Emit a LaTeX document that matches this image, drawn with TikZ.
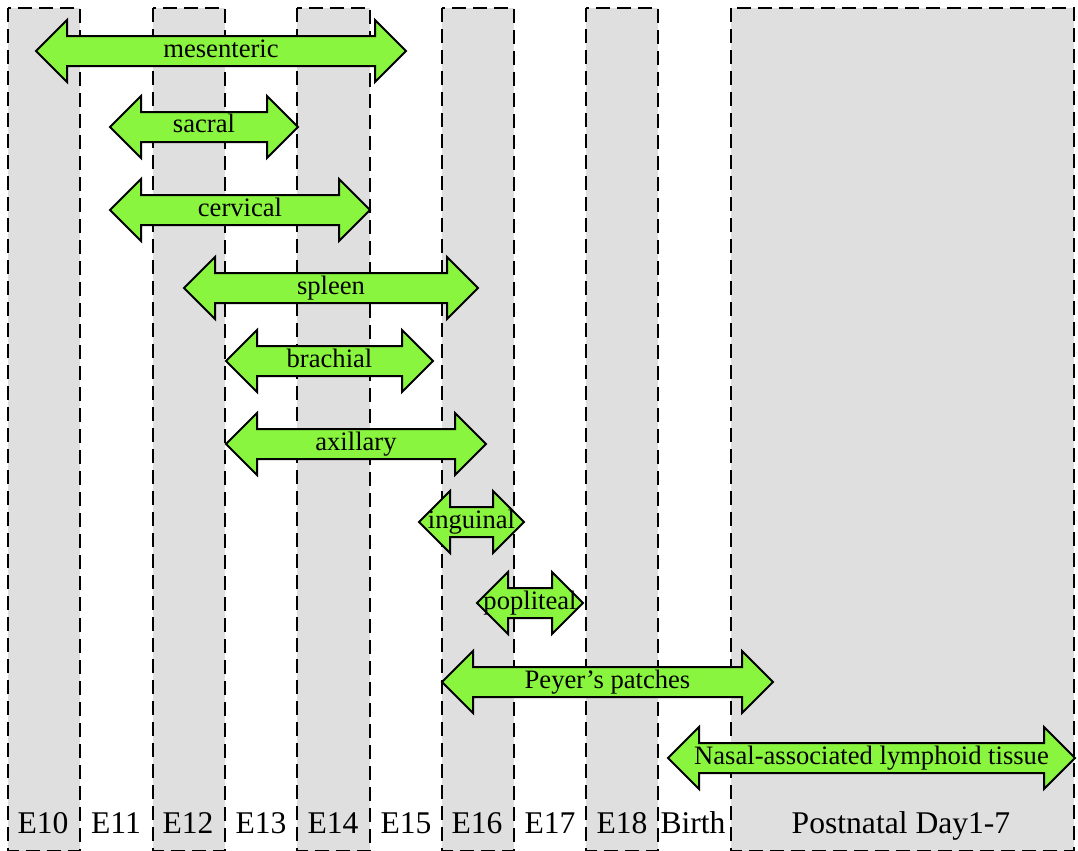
\documentclass[tikz,border=0pt]{standalone}
\usepackage{fontspec}
\setmainfont{Liberation Serif}
\definecolor{stagegray}{RGB}{223,223,223}
\definecolor{organgreen}{RGB}{137,245,62}

\tikzset{
  stage/.style={draw, fill=stagegray, line width=1.1pt, dash pattern=on 7pt off 3.5pt},
  organarrow/.style={draw, fill=organgreen, line width=1pt, line join=miter},
  organlabel/.style={anchor=base, inner sep=0pt, font=\fontsize{13.3}{15}\selectfont},
  daylabel/.style={anchor=base, inner sep=0pt, font=\fontsize{15.8}{18}\selectfont}
}

% #1 name, #2 left tip, #3 right tip, #4 centre line, #5 text
\newcommand{\organ}[5]{%
  \draw[organarrow] (#2,#4) -- ++(31,-31) -- ++(0,16) -- (#3-31,#4-15)
    -- ++(0,-16) -- (#3,#4) -- ++(-31,31) -- ++(0,-16) -- (#2+31,#4+15)
    -- ++(0,16) -- cycle;
  \node[organlabel] (#1) at ({(#2+#3)/2},#4+6) {#5};
}

\begin{document}
\begin{tikzpicture}[x=0.5pt, y=-0.5pt]
            \useasboundingbox (0,0) rectangle (1078,851);

            % shaded stages
            \foreach \a/\b in {8/80, 153/225, 297/370, 442/514, 586/658, 731/1074}
                \draw[stage] (\a,8) rectangle (\b,851);

            % organs
            \organ{mes}{36}{406}{51}{mesenteric}
            \organ{sac}{110}{298}{127}{sacral}
            \organ{cer}{110}{370}{210}{cervical}
            \organ{spl}{184}{478}{288}{spleen}
            \organ{bra}{226}{433}{361}{brachial}
            \organ{axi}{226}{486}{444}{axillary}
            \organ{ing}{419}{524}{522}{inguinal}
            \organ{pop}{477}{583}{603}{popliteal}
            \organ{pey}{442}{773}{682}{Peyer’s patches}
            \organ{nal}{668}{1075}{758}{Nasal-associated lymphoid tissue}

            % stage labels
            \node[daylabel] (e10) at (43,833) {E10};
            \node[daylabel] (e11) at (116,833) {E11};
            \node[daylabel] (e12) at (188,833) {E12};
            \node[daylabel] (e13) at (261,833) {E13};
            \node[daylabel] (e14) at (333,833) {E14};
            \node[daylabel] (e15) at (406,833) {E15};
            \node[daylabel] (e16) at (477,833) {E16};
            \node[daylabel] (e17) at (550,833) {E17};
            \node[daylabel] (e18) at (622,833) {E18};
            \node[daylabel] (birth) at (693,833) {Birth};
            \node[daylabel] (post) at (901,833) {Postnatal Day1-7};
        \end{tikzpicture}
\end{document}
